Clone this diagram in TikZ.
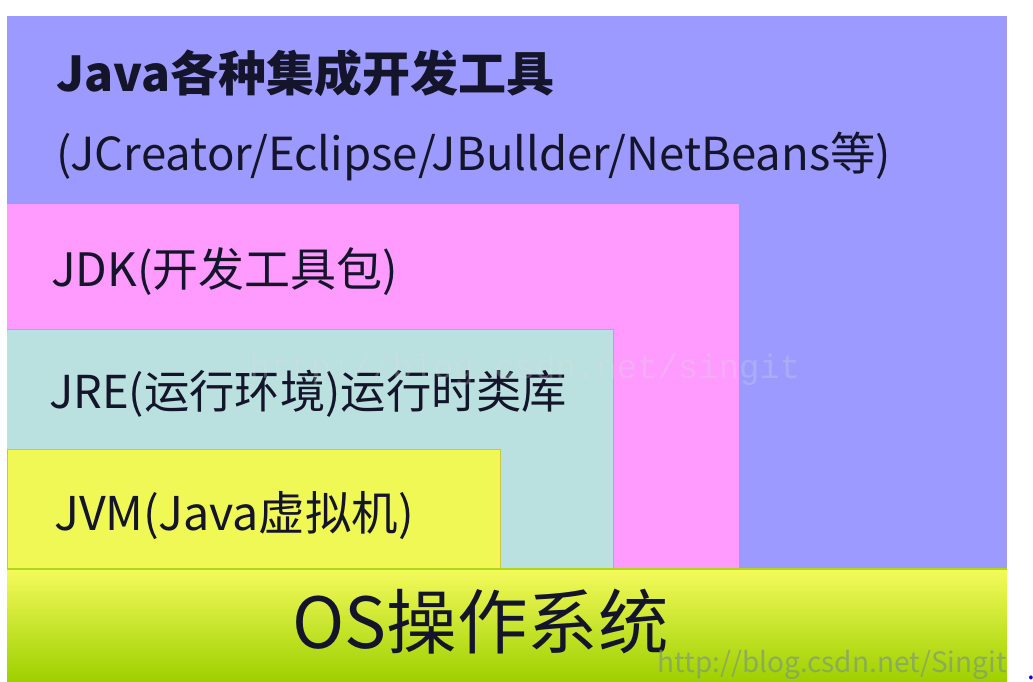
\documentclass[tikz,border=0pt]{standalone}
\usepackage{fontspec}
\usepackage{xcolor}
\usepackage{tikz}
\newfontfamily\cjk{Noto Sans CJK SC}
\newfontfamily\wmfont{Liberation Mono}
\usetikzlibrary{
	positioning,
	backgrounds
}

\definecolor{ideblue}{HTML}{9C9AFF}
\definecolor{jdkpink}{HTML}{FF9AFF}
\definecolor{jrecyan}{HTML}{BAE0E0}
\definecolor{jvmyellow}{HTML}{F0F855}
\definecolor{jvmedge}{HTML}{C4CC3C}
\definecolor{ostop}{HTML}{F4FA5C}
\definecolor{osbottom}{HTML}{9ED000}
\definecolor{osedge}{HTML}{B4D41C}
\definecolor{txtdark}{HTML}{14142A}
\definecolor{wmgray}{HTML}{7E9A78}

\begin{document}
\begin{tikzpicture}[x=1pt, y=-1pt,
		label/.style={inner sep=0pt, anchor=west, text=txtdark, font=\cjk\fontsize{46}{52}\selectfont},
		watermark/.style={inner sep=0pt, text opacity=0.7, text=wmgray, font=\cjk\fontsize{28}{32}\selectfont}]
		\useasboundingbox (0,0) rectangle (1033,681);
		\coordinate (TL) at (7,16);
		\coordinate (IDE) at (1007,569);
		\coordinate (JDK) at (739,204);
		\coordinate (JRE) at (613,329);
		\coordinate (JVM) at (500,449);
		\coordinate (OSL) at (7,569);
		\coordinate (OSR) at (1007,681);
		% 各层底色
		\fill[ideblue] (TL) rectangle (IDE);
		\fill[jdkpink] (7,204) rectangle (739,569);
		\fill[jrecyan] (7,329) rectangle (613,569);
		\draw[jdkpink!70!gray, line width=0.8pt] (7,329)--(JRE)--(613,569);
		\fill[jvmyellow, draw=jvmedge, line width=0.8pt] (7,449) rectangle (500,569);
		% 操作系统
		\shade[top color=ostop, bottom color=osbottom] (OSL) rectangle (OSR);
		\draw[osedge, line width=1.2pt] (OSL)--(1007,569);
		% 文字
		\node[label, font=\cjk\bfseries\fontsize{48}{54}\selectfont] (ide) at (56,73) {Java各种集成开发工具};
		\node[label, font=\cjk\fontsize{45.5}{50}\selectfont] (tools) at (56,156) {(JCreator/Eclipse/JBullder/NetBeans等)};
		\node[label] (jdk) at (51,272) {JDK(开发工具包)};
		\node[label, font=\cjk\fontsize{45.3}{51}\selectfont] (jre) at (49,394) {JRE(运行环境)运行时类库};
		\node[label, font=\cjk\fontsize{46.5}{52}\selectfont] (jvm) at (54,516) {JVM(Java虚拟机)};
		\node[label, font=\cjk\fontsize{70.5}{76}\selectfont] (os) at (292,622) {OS操作系统};
		% 水印
		\node[inner sep=0pt, text opacity=0.25, text=white!75!gray, font=\wmfont\fontsize{34}{38}\selectfont] (wm) at (525,370) {http://blog.csdn.net/singit};
		\node[watermark, anchor=base east] (csdn) at (1007,672) {http://blog.csdn.net/Singit};
		\node[inner sep=0pt, anchor=base west, text=blue, font=\cjk\fontsize{28}{32}\selectfont] (dot) at (1027,679) {.};
	\end{tikzpicture}
\end{document}
